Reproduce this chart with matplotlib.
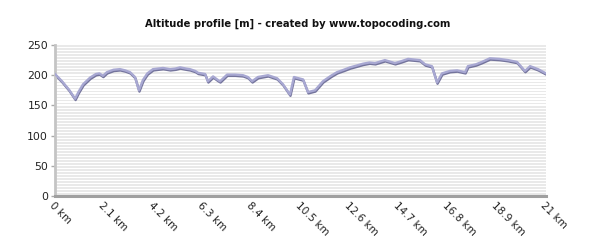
import matplotlib
matplotlib.use("Agg")
import matplotlib.pyplot as plt
import matplotlib.transforms as mtransforms

# distance in km and altitude in m
distance_km = [0.0, 0.3, 0.6, 0.86, 1.0, 1.2, 1.5, 1.75, 1.9, 2.05, 2.22, 2.5, 2.78,
               3.0, 3.21, 3.42, 3.59, 3.76, 3.95, 4.19, 4.4, 4.62, 4.92, 5.15, 5.35,
               5.6, 5.77, 6.0, 6.12, 6.42, 6.54, 6.76, 6.97, 7.06, 7.36, 7.7, 8.04,
               8.25, 8.43, 8.68, 9.11, 9.5, 9.75, 10.05, 10.22, 10.61, 10.82, 11.12,
               11.46, 11.8, 12.06, 12.35, 12.62, 12.9, 13.17, 13.45, 13.69, 14.11,
               14.54, 14.8, 15.1, 15.61, 15.83, 16.12, 16.34, 16.55, 16.89, 17.2,
               17.54, 17.66, 18.0, 18.26, 18.6, 19.0, 19.38, 19.76, 20.1, 20.32,
               20.66, 21.0]
altitude_m = [202, 190, 176, 161, 172, 185, 196, 202, 203, 199, 205, 209, 210,
              208, 205, 197, 175, 192, 203, 210, 211, 212, 210, 211, 213,
              211, 210, 207, 204, 202, 190, 198, 192, 190, 201, 201, 200,
              197, 190, 197, 200, 195, 185, 168, 197, 193, 172, 175,
              190, 199, 205, 209, 213, 216, 219, 221, 220, 225,
              220, 223, 227, 225, 218, 215, 188, 203, 207, 208,
              205, 215, 218, 222, 228, 227, 225, 222, 207, 215,
              210, 203]

x_ticks = [0, 2.1, 4.2, 6.3, 8.4, 10.5, 12.6, 14.7, 16.8, 18.9, 21]
x_tick_labels = ["0 km", "2.1 km", "4.2 km", "6.3 km", "8.4 km", "10.5 km",
                 "12.6 km", "14.7 km", "16.8 km", "18.9 km", "21 km"]
y_ticks = [0, 50, 100, 150, 200, 250]

fig = plt.figure(figsize=(6, 2.5), dpi=100)
ax = fig.add_axes([55/600, 1-196/250, (546-55)/600, (196-45)/250])

# striped background
for k in range(0, 250, 5):
    ax.axhspan(k + 1.5, k + 4.5, color="#e9e9e9", lw=0, zorder=0)

shadow = mtransforms.offset_copy(ax.transData, fig=fig, x=0.5, y=-1.3, units="dots")
ax.plot(distance_km, altitude_m, color="#74749c", lw=1.7, transform=shadow,
        solid_joinstyle="round", zorder=2)
ax.plot(distance_km, altitude_m, color="#a8a8d2", lw=1.7,
        solid_joinstyle="round", zorder=3)

ax.set_xlim(0, 21)
ax.set_ylim(0, 250)
ax.set_yticks(y_ticks)
ax.set_yticklabels([str(v) for v in y_ticks], fontsize=7.8, color="#222222")
ax.set_xticks(x_ticks)
ax.set_xticklabels(x_tick_labels, fontsize=7.5, color="#222222",
                   rotation=-45, ha="left", va="top", rotation_mode="anchor")
ax.tick_params(axis="y", length=3, width=1, color="#aaaaaa", pad=2)
ax.tick_params(axis="x", length=0, pad=3)

for s in ["top", "right"]:
    ax.spines[s].set_visible(False)
ax.spines["left"].set_color("#c4c4c4")
ax.spines["left"].set_linewidth(2)
ax.spines["bottom"].set_color("#a0a0a0")
ax.spines["bottom"].set_linewidth(2.2)

fig.text(298/600, 1-24/250, "Altitude profile [m] - created by www.topocoding.com",
         ha="center", va="center", fontsize=7.2, fontweight="bold", color="#111111")

fig.savefig("out.png", dpi=100)
